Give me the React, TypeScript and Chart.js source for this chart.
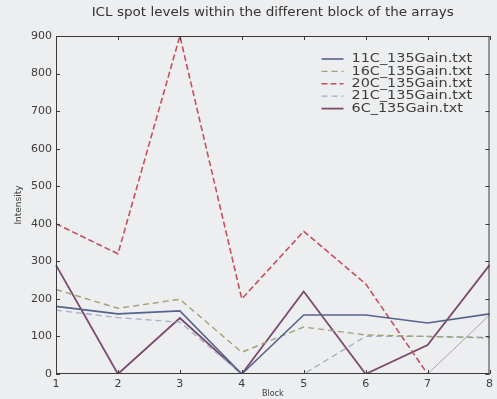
import React, { useEffect, useRef } from "react";
import { Chart, registerables } from "chart.js";

Chart.register(...registerables);

// Block numbers along the x axis
const blocks = ["1", "2", "3", "4", "5", "6", "7", "8"];

// Spot intensities per block, one array per file
const series11C = [180, 160, 168, 0, 157, 157, 136, 160];
const series16C = [225, 175, 199, 58, 125, 104, 100, 96];
const series20C = [400, 320, 900, 200, 380, 240, 0, 0];
const series21C = [170, 150, 138, 0, 0, 100, 100, 98];
const series6C = [290, 0, 149, 0, 220, 0, 77, 290];
const seriesExtra = [0, 0, 0, 0, 0, 0, 0, 157];

const yTicks = [0, 100, 200, 300, 400, 500, 600, 700, 800, 900];

const TITLE = "ICL spot levels within the different block of the arrays";
const FONT = "'DejaVu Sans', sans-serif";

// Matplotlib-style frame: box around the plot with inward ticks on all sides,
// the title centred over the axes and the legend in the upper right
const framePlugin = {
  id: "frame",
  afterDraw(chart: any) {
    const { ctx, chartArea: a, scales } = chart;
    ctx.save();
    ctx.strokeStyle = "#3a3a3a";
    ctx.lineWidth = 1;
    ctx.strokeRect(a.left + 0.5, a.top + 0.5, a.right - a.left - 1, a.bottom - a.top - 1);
    ctx.beginPath();
    const tl = 4;
    blocks.forEach((_, i) => {
      const x = Math.round(scales.x.getPixelForValue(i)) + 0.5;
      ctx.moveTo(x, a.bottom);
      ctx.lineTo(x, a.bottom - tl);
      ctx.moveTo(x, a.top);
      ctx.lineTo(x, a.top + tl);
    });
    yTicks.forEach((v) => {
      const y = Math.round(scales.y.getPixelForValue(v)) + 0.5;
      ctx.moveTo(a.left, y);
      ctx.lineTo(a.left + tl, y);
      ctx.moveTo(a.right, y);
      ctx.lineTo(a.right - tl, y);
    });
    ctx.stroke();

    // title
    ctx.save();
    ctx.translate((a.left + a.right) / 2, 13);
    ctx.scale(1.04, 1);
    ctx.font = `13px ${FONT}`;
    ctx.fillStyle = "#333";
    ctx.textAlign = "center";
    ctx.textBaseline = "middle";
    ctx.fillText(TITLE, 0, 0);
    ctx.restore();

    // legend
    const shown = chart.data.datasets.filter((d: any) => d.inLegend);
    ctx.textBaseline = "middle";
    ctx.textAlign = "left";
    shown.forEach((d: any, i: number) => {
      const y = a.top + 23 + i * 12.4;
      ctx.strokeStyle = d.borderColor;
      ctx.lineWidth = d.borderWidth;
      ctx.setLineDash(d.borderDash || []);
      ctx.beginPath();
      ctx.moveTo(a.right - 168, y);
      ctx.lineTo(a.right - 146, y);
      ctx.stroke();
      ctx.setLineDash([]);
      ctx.save();
      ctx.translate(a.right - 138, y);
      ctx.scale(1.2, 1);
      ctx.font = `12px ${FONT}`;
      ctx.fillStyle = "#3c3c3c";
      ctx.fillText(d.label, 0, 0);
      ctx.restore();
    });
    ctx.restore();
  },
};

const bgPlugin = {
  id: "bg",
  beforeDraw(chart: any) {
    const { ctx, width, height } = chart;
    ctx.save();
    ctx.fillStyle = "#eceef0";
    ctx.fillRect(0, 0, width, height);
    ctx.restore();
  },
};

export default function App() {
  const ref = useRef<HTMLCanvasElement>(null);

  useEffect(() => {
    document.body.style.margin = "0";
    const mk = (label: string, data: number[], color: string, dash: number[], width: number, inLegend: boolean) => ({
      label,
      data,
      borderColor: color,
      backgroundColor: color,
      borderDash: dash,
      borderWidth: width,
      pointRadius: 0,
      tension: 0,
      fill: false,
      inLegend,
    });
    const chart = new Chart(ref.current!, {
      type: "line",
      data: {
        labels: blocks,
        datasets: [
          mk("5C_135Gain.txt", seriesExtra, "#aaa3b4", [], 1, false),
          mk("11C_135Gain.txt", series11C, "#56638c", [], 1.6, true),
          mk("16C_135Gain.txt", series16C, "#9ea276", [6, 4], 1.4, true),
          mk("20C_135Gain.txt", series20C, "#c4505c", [6, 3], 1.6, true),
          mk("21C_135Gain.txt", series21C, "#9fb0c8", [6, 4], 1.3, true),
          mk("6C_135Gain.txt", series6C, "#7c4a6e", [], 1.8, true),
        ] as any,
      },
      options: {
        animation: false,
        responsive: false,
        layout: { padding: { left: 0, right: 6, top: 36, bottom: 0 } },
        plugins: {
          legend: { display: false },
          tooltip: { enabled: false },
          title: { display: false },
        },
        scales: {
          x: {
            type: "category",
            offset: false,
            grid: { display: false, drawTicks: false },
            border: { display: false },
            ticks: { color: "#3c3c3c", font: { family: FONT, size: 11 }, padding: 4, maxRotation: 0 },
            title: {
              display: true,
              text: "Block",
              color: "#3c3c3c",
              font: { family: FONT, size: 8 },
              padding: { top: 0, bottom: 0 },
            },
            afterFit: (s: any) => {
              s.height = 25;
            },
          },
          y: {
            min: 0,
            max: 900,
            grid: { display: false, drawTicks: false },
            border: { display: false },
            ticks: { stepSize: 100, color: "#3c3c3c", font: { family: FONT, size: 11 }, padding: 4 },
            title: {
              display: true,
              text: "Intensity",
              color: "#3c3c3c",
              font: { family: FONT, size: 9 },
              padding: { top: 13, bottom: 0 },
            },
            afterFit: (s: any) => {
              s.width = 56;
            },
          },
        },
      },
      plugins: [bgPlugin, framePlugin],
    });
    return () => chart.destroy();
  }, []);

  return <canvas ref={ref} width={497} height={399} style={{ display: "block" }} />;
}
